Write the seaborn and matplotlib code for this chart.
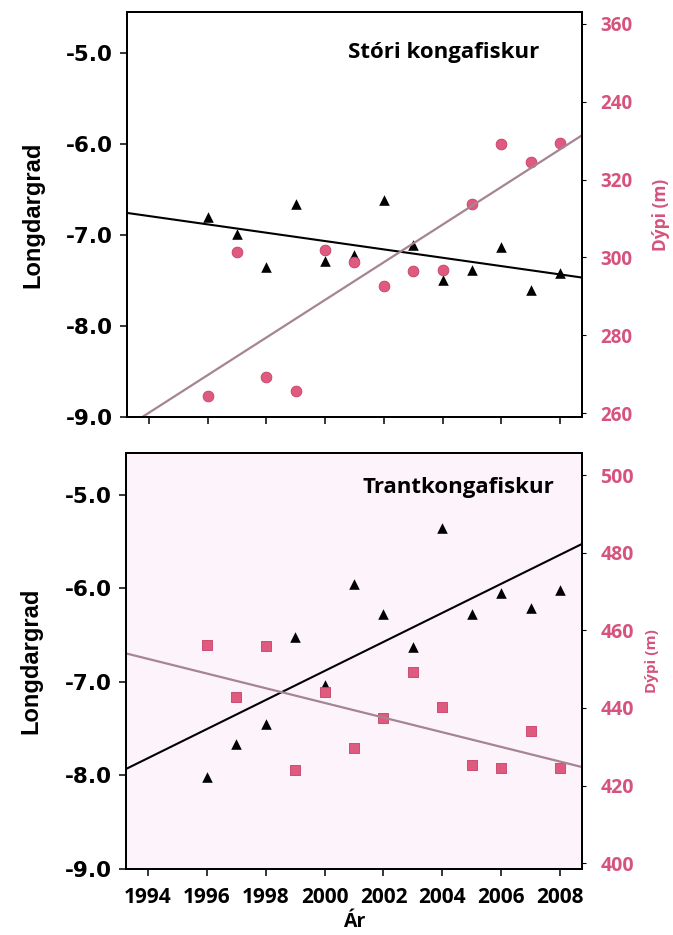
"""Longdargrad og dýpi hjá kongafiski, 1996-2008."""

import matplotlib
matplotlib.use("Agg")
import matplotlib.pyplot as plt
import seaborn as sns
import numpy as np
import pandas as pd

# Ár
years = [1996, 1997, 1998, 1999, 2000, 2001, 2002, 2003, 2004, 2005, 2006, 2007, 2008]

# Stóri kongafiskur
stori_longd = [-6.80, -6.99, -7.35, -6.66, -7.29, -7.22, -6.61, -7.11, -7.49, -7.38, -7.13, -7.60, -7.42]
stori_dypi = [264.4, 301.3, 269.2, 265.6, 301.8, 298.7, 292.6, 296.4, 296.7, 313.8, 329.2, 324.6, 329.5]

# Trantkongafiskur
trant_longd = [-8.02, -7.66, -7.45, -6.52, -7.03, -5.95, -6.27, -6.63, -5.35, -6.27, -6.05, -6.21, -6.02]
trant_dypi = [456.2, 442.8, 455.9, 424.0, 444.1, 429.6, 437.4, 449.2, 440.2, 425.3, 424.5, 434.0, 424.5]

# Ásar
x_ticks = [1994, 1996, 1998, 2000, 2002, 2004, 2006, 2008]
left_ticks = [-9.0, -8.0, -7.0, -6.0, -5.0]
stori_right_ticks = [260, 280, 300, 320, 340, 360]
stori_right_labels = ["260", "280", "300", "320", "240", "360"]  # sum á myndini
trant_right_ticks = [400, 420, 440, 460, 480, 500]

PINK = "#de5a7e"
PINK_LINE = "#a58494"
PINK_TEXT = "#d5537c"

sns.set_style("ticks")
plt.rcParams["font.family"] = ["DejaVu Sans"]
plt.rcParams["axes.unicode_minus"] = False
plt.rcParams["text.color"] = "black"
plt.rcParams["axes.labelcolor"] = "black"
plt.rcParams["xtick.color"] = "black"
plt.rcParams["ytick.color"] = "black"

fig = plt.figure(figsize=(6.73, 9.35), dpi=100)
ax_top = fig.add_axes([0.1887, 0.554, 0.676, 0.433])
ax_bot = fig.add_axes([0.187, 0.0706, 0.678, 0.445])
ax_bot.set_facecolor("#fcf4fa")


def draw_panel(ax, df, marker, right_lim, right_ticks, right_labels, title, title_xy,
               right_size, right_label_size, right_labelpad, title_size):
    ax.set_xlim(1993.25, 2008.75)
    ax.set_ylim(-9.0, -4.55)
    ax2 = ax.twinx()
    ax2.set_ylim(*right_lim)

    # Dýpi (høgri ásur)
    sns.regplot(data=df, x="year", y="dypi", ax=ax2, ci=None, truncate=False,
                marker=marker,
                scatter_kws=dict(s=60 if marker == "o" else 50, color=PINK,
                                 edgecolor="#c83e68", linewidths=0.6, alpha=1),
                line_kws=dict(color=PINK_LINE, linewidth=1.6))
    # Longdargrad (vinstri ásur)
    sns.regplot(data=df, x="year", y="longd", ax=ax, ci=None, truncate=False,
                marker="^",
                scatter_kws=dict(s=58, color="black", linewidths=0, alpha=1),
                line_kws=dict(color="black", linewidth=1.5))
    ax.set_xlim(1993.25, 2008.75)
    ax.set_ylim(-9.0, -4.55)
    ax2.set_ylim(*right_lim)

    ax.set_yticks(left_ticks)
    ax.set_yticklabels([f"{v:.1f}" for v in left_ticks], fontsize=15.5,
                       fontweight="heavy", family="DejaVu Sans")
    ax.set_xticks(x_ticks)
    ax.set_ylabel("Longdargrad", fontsize=17, fontweight="bold",
                  family="Liberation Sans", labelpad=16)
    ax.set_xlabel("")

    ax2.set_yticks(right_ticks)
    ax2.set_yticklabels(right_labels, fontsize=right_size, fontweight="bold",
                        family="Open Sans", color=PINK_TEXT)
    ax2.set_ylabel("Dýpi (m)", fontsize=right_label_size, fontweight="bold",
                   family="Open Sans", color=PINK_TEXT, labelpad=right_labelpad)
    ax2.set_xlabel("")

    for a in (ax, ax2):
        for sp in a.spines.values():
            sp.set_visible(True)
            sp.set_linewidth(1.4)
            sp.set_color("black")
    ax.tick_params(axis="both", direction="out", length=5, width=1.1)
    ax.tick_params(axis="y", pad=5)
    ax2.tick_params(axis="y", direction="out", length=3, width=0.8, pad=10)

    ax.text(title_xy[0], title_xy[1], title, transform=ax.transAxes,
            ha="center", va="center", fontsize=title_size, fontweight="bold",
            family="Open Sans", color="black")
    return ax2


df_stori = pd.DataFrame({"year": years, "longd": stori_longd, "dypi": stori_dypi})
df_trant = pd.DataFrame({"year": years, "longd": trant_longd, "dypi": trant_dypi})

draw_panel(ax_top, df_stori, "o", (259, 363), stori_right_ticks, stori_right_labels,
           "Stóri kongafiskur", (0.695, 0.90), 13.5, 12.5, 14, 16)
ax_top.set_xticklabels([])

draw_panel(ax_bot, df_trant, "s", (398.5, 505.7), trant_right_ticks,
           [str(v) for v in trant_right_ticks], "Trantkongafiskur", (0.728, 0.916),
           14, 11, 8, 16)
ax_bot.set_xticklabels([str(v) for v in x_ticks], fontsize=15, fontweight="bold",
                       family="Open Sans")
ax_bot.tick_params(axis="x", pad=8)
ax_bot.set_xlabel("Ár", fontsize=14, fontweight="bold", family="Open Sans", labelpad=3)

fig.savefig("out.png", dpi=100)
